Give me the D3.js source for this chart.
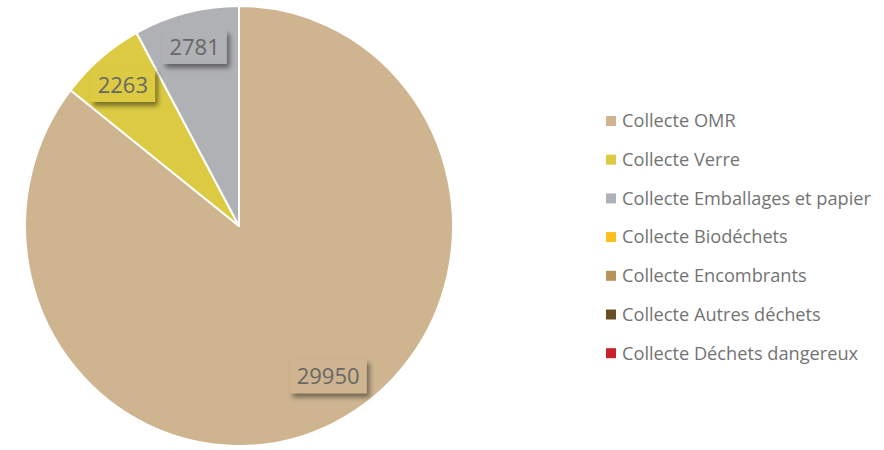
<!DOCTYPE html>
<html><head><meta charset="utf-8">
<script src="https://cdn.jsdelivr.net/npm/d3@7"></script>
<style>body{margin:0;background:#fff}svg{display:block}</style>
</head><body>
<svg id="c" width="884" height="450"></svg>
<script>
const categories = ["Collecte OMR","Collecte Verre","Collecte Emballages et papier","Collecte Biodéchets","Collecte Encombrants","Collecte Autres déchets","Collecte Déchets dangereux"];
const values = [29950, 2263, 2781, 0, 0, 0, 0];
const colors = ["#CEB590","#DCCA42","#B0B1B5","#FCC01C","#B8945C","#6A4E23","#C9212B"];

const svg = d3.select("#c");
const cx = 239, cy = 226, rx = 214, ry = 220;
const defs = svg.append("defs");
const f = defs.append("filter").attr("id","sh").attr("x","-30%").attr("y","-30%").attr("width","160%").attr("height","180%");
f.append("feDropShadow").attr("dx",3).attr("dy",4).attr("stdDeviation",2.5).attr("flood-color","#000").attr("flood-opacity",0.45);

const data = categories.map((c,i)=>({cat:c, value:values[i], color:colors[i]}));
const pie = d3.pie().sort(null).value(d=>d.value);
const arcs = pie(data);
const arc = d3.arc().innerRadius(0).outerRadius(rx);
const g = svg.append("g").attr("transform",`translate(${cx},${cy}) scale(1,${ry/rx})`);
g.selectAll("path").data(arcs.filter(a=>a.data.value>0)).join("path")
  .attr("d",arc).attr("fill",d=>d.data.color)
  .attr("stroke","#fff").attr("stroke-width",2).attr("stroke-linejoin","round");

const lg = svg.append("g");
arcs.filter(a=>a.data.value>0).forEach(a=>{
  const span = a.endAngle - a.startAngle;
  // best-fit placement: large slice label pulled a little toward its start
  const ang = (a.startAngle + a.endAngle)/2 - (span > Math.PI ? 0.095 : 0);
  const rr = (span > Math.PI ? 0.80 : 0.84) * rx;
  const px = cx + Math.sin(ang)*rr, py = cy - Math.cos(ang)*rr*ry/rx;
  const t = lg.append("g").attr("transform",`translate(${px},${py})`);
  const txt = t.append("text").attr("text-anchor","middle").attr("dy","0.36em")
    .attr("font-family","Open Sans, sans-serif").attr("font-size",22).attr("fill","#676767")
    .text(a.data.value);
  const bb = txt.node().getBBox();
  t.insert("rect","text").attr("x",bb.x-7).attr("y",-17).attr("width",bb.width+14).attr("height",34)
    .attr("fill",a.data.color).attr("filter","url(#sh)");
});

const leg = svg.append("g").attr("transform","translate(606,121)");
const items = leg.selectAll("g").data(data).join("g").attr("transform",(d,i)=>`translate(0,${i*38.7})`);
items.append("rect").attr("x",0).attr("y",-5).attr("width",10).attr("height",10).attr("fill",d=>d.color);
items.append("text").attr("x",16).attr("dy","0.35em")
  .attr("font-family","Open Sans, sans-serif").attr("font-size",18.2).attr("fill","#737373").text(d=>d.cat);
</script>
</body></html>
